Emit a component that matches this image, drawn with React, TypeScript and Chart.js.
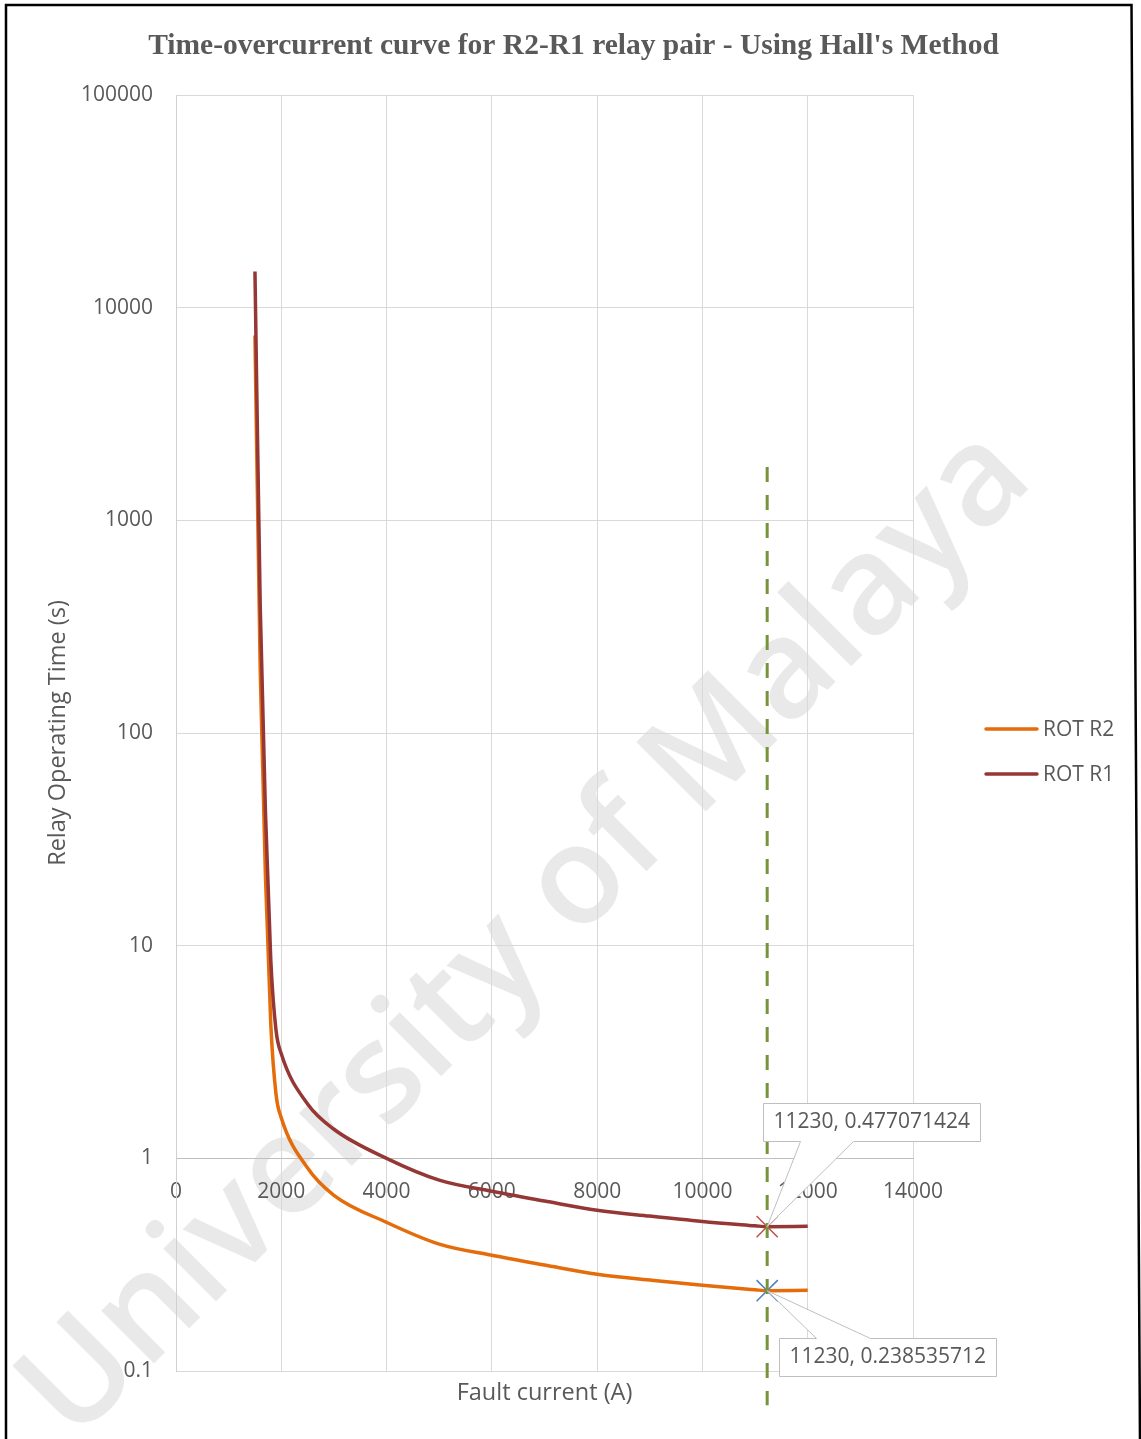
import React, { useEffect, useRef } from "react";
import { Chart, registerables } from "chart.js";

Chart.register(...registerables);

const W = 1141;
const H = 1439;

// Relay operating time (s) against fault current (A)
const faultCurrent = [1500, 1600, 1700, 1800, 1900, 2000, 2500, 3000, 4000, 5000, 6000, 7000, 8000, 9000, 10000, 11000, 11230, 12000];
const rotR1 = [14800, 395, 42, 8.6, 4.0, 3.1, 1.8, 1.37, 1.0, 0.79, 0.7, 0.63, 0.57, 0.535, 0.505, 0.482, 0.477071424, 0.479];
const rotR2 = [7400, 198, 21, 4.3, 2.0, 1.55, 0.9, 0.67, 0.5, 0.395, 0.35, 0.315, 0.285, 0.268, 0.253, 0.241, 0.238535712, 0.2395];

// Operating point for the pair and the marker line through it
const faultLevel = 11230;
const pointR1 = 0.477071424;
const pointR2 = 0.238535712;
const markerLineSpan = [1780, 0.069];

const xTicks = [0, 2000, 4000, 6000, 8000, 10000, 12000, 14000];
const yTicks = [0.1, 1, 10, 100, 1000, 10000, 100000];

const TITLE = "Time-overcurrent curve for R2-R1 relay pair - Using Hall's Method";
const X_TITLE = "Fault current (A)";
const Y_TITLE = "Relay Operating Time (s)";
const WATERMARK = "University of Malaya";

const TEXT = "#595959";
const SANS = '"Open Sans"';
const C_R2 = "#E46C0A";
const C_R1 = "#953735";

const seriesLegend = [
  { label: "ROT R2", color: C_R2 },
  { label: "ROT R1", color: C_R1 },
];

function toXY(ys: number[]) {
  return faultCurrent.map((x, i) => ({ x, y: ys[i] }));
}

function calloutPath(
  ctx: CanvasRenderingContext2D,
  ax: number,
  ay: number,
  L: number,
  T: number,
  w: number,
  h: number,
  b1: number,
  b2: number,
  pointerFrom: "top" | "bottom"
) {
  const R = L + w;
  const B = T + h;
  ctx.beginPath();
  if (pointerFrom === "bottom") {
    ctx.moveTo(L, T);
    ctx.lineTo(R, T);
    ctx.lineTo(R, B);
    ctx.lineTo(b2, B);
    ctx.lineTo(ax, ay);
    ctx.lineTo(b1, B);
    ctx.lineTo(L, B);
  } else {
    ctx.moveTo(L, T);
    ctx.lineTo(b1, T);
    ctx.lineTo(ax, ay);
    ctx.lineTo(b2, T);
    ctx.lineTo(R, T);
    ctx.lineTo(R, B);
    ctx.lineTo(L, B);
  }
  ctx.closePath();
}

const decorPlugin = {
  id: "decor",
  beforeDraw(chart: any) {
    const ctx: CanvasRenderingContext2D = chart.ctx;
    ctx.save();
    ctx.fillStyle = "#ffffff";
    ctx.fillRect(0, 0, W, H);
    // watermark
    ctx.translate(527, 935);
    ctx.rotate(-Math.PI / 4);
    ctx.font = `600 138px ${SANS}`;
    ctx.fillStyle = "rgba(0,0,0,0.085)";
    ctx.textAlign = "center";
    ctx.textBaseline = "middle";
    ctx.fillText(WATERMARK, 0, 0);
    ctx.restore();
  },
  afterDatasetsDraw(chart: any) {
    const ctx: CanvasRenderingContext2D = chart.ctx;
    const xs = chart.scales.x;
    const ys = chart.scales.y;
    ctx.save();
    ctx.font = `21px ${SANS}`;
    ctx.lineWidth = 1;
    ctx.strokeStyle = "#BFBFBF";
    ctx.textBaseline = "middle";
    ctx.textAlign = "left";

    const ax = xs.getPixelForValue(faultLevel);
    // upper callout (ROT R1)
    {
      const ay = ys.getPixelForValue(pointR1);
      const text = `${faultLevel}, ${pointR1}`;
      const w = Math.round(ctx.measureText(text).width + 20);
      const L = Math.round(ax - 4) + 0.5;
      const T = Math.round(ay - 124) + 0.5;
      calloutPath(ctx, ax, ay, L, T, w, 38, L + 37, L + 90, "bottom");
      ctx.fillStyle = "#ffffff";
      ctx.fill();
      ctx.stroke();
      ctx.fillStyle = TEXT;
      ctx.fillText(text, L + 10, T + 19);
    }
    // lower callout (ROT R2)
    {
      const ay = ys.getPixelForValue(pointR2);
      const text = `${faultLevel}, ${pointR2}`;
      const w = Math.round(ctx.measureText(text).width + 20);
      const L = Math.round(ax + 12) + 0.5;
      const T = Math.round(ay + 47) + 0.5;
      calloutPath(ctx, ax, ay, L, T, w, 38, L + 37, L + 91, "top");
      ctx.fillStyle = "#ffffff";
      ctx.fill();
      ctx.stroke();
      ctx.fillStyle = TEXT;
      ctx.fillText(text, L + 10, T + 19);
    }
    ctx.restore();
  },
  afterDraw(chart: any) {
    const ctx: CanvasRenderingContext2D = chart.ctx;
    const area = chart.chartArea;
    ctx.save();
    // chart title
    ctx.fillStyle = TEXT;
    ctx.font = 'bold 29.5px "Liberation Serif"';
    ctx.textAlign = "center";
    ctx.textBaseline = "middle";
    ctx.fillText(TITLE, 573.5, 46);

    // axis titles
    ctx.font = `23.5px ${SANS}`;
    ctx.fillText(X_TITLE, (area.left + area.right) / 2, 1393);
    ctx.save();
    ctx.translate(58, (area.top + area.bottom) / 2);
    ctx.rotate(-Math.PI / 2);
    ctx.fillText(Y_TITLE, 0, 0);
    ctx.restore();

    // legend
    ctx.font = `21px ${SANS}`;
    ctx.textAlign = "left";
    ctx.lineWidth = 3.5;
    ctx.lineCap = "round";
    seriesLegend.forEach((item, i) => {
      const y = 729 + i * 45;
      ctx.strokeStyle = item.color;
      ctx.beginPath();
      ctx.moveTo(986, y);
      ctx.lineTo(1037, y);
      ctx.stroke();
      ctx.fillStyle = TEXT;
      ctx.fillText(item.label, 1043, y + 1);
    });

    // page frame
    ctx.strokeStyle = "#000000";
    ctx.lineWidth = 2.5;
    ctx.lineCap = "butt";
    ctx.beginPath();
    ctx.moveTo(6, H + 2);
    ctx.lineTo(6, 5);
    ctx.lineTo(1131.5, 5);
    ctx.lineTo(1140, H + 2);
    ctx.stroke();
    ctx.restore();
  },
};

export default function App() {
  const canvasRef = useRef<HTMLCanvasElement | null>(null);

  useEffect(() => {
    const canvas = canvasRef.current;
    if (!canvas) return;
    const tickFont = { family: "Open Sans", size: 21 };
    const chart = new Chart(canvas, {
      type: "line",
      data: {
        datasets: [
          {
            label: "Fault level",
            data: markerLineSpan.map((y) => ({ x: faultLevel, y })),
            borderColor: "#77933C",
            borderWidth: 3,
            borderDash: [15, 13],
            pointRadius: 0,
            clip: false,
            order: 0,
          } as any,
          {
            label: "R2 point",
            data: [{ x: faultLevel, y: pointR2 }],
            showLine: false,
            pointStyle: "crossRot",
            pointRadius: 15,
            borderColor: "#4F81BD",
            borderWidth: 1.5,
            order: 1,
          },
          {
            label: "R1 point",
            data: [{ x: faultLevel, y: pointR1 }],
            showLine: false,
            pointStyle: "crossRot",
            pointRadius: 15,
            borderColor: "#C0504D",
            borderWidth: 1.5,
            order: 1,
          },
          {
            label: "ROT R1",
            data: toXY(rotR1),
            borderColor: C_R1,
            borderWidth: 3.5,
            pointRadius: 0,
            cubicInterpolationMode: "monotone",
            order: 2,
          },
          {
            label: "ROT R2",
            data: toXY(rotR2),
            borderColor: C_R2,
            borderWidth: 3.5,
            pointRadius: 0,
            cubicInterpolationMode: "monotone",
            order: 3,
          },
        ],
      },
      options: {
        responsive: false,
        animation: false,
        devicePixelRatio: 1,
        layout: { padding: { left: 0, top: 95, right: 228, bottom: 68 } },
        plugins: {
          legend: { display: false },
          title: { display: false },
          tooltip: { enabled: false },
        },
        scales: {
          x: {
            type: "linear",
            position: { y: 1 } as any,
            min: 0,
            max: 14000,
            afterBuildTicks: (s: any) => {
              s.ticks = xTicks.map((v) => ({ value: v }));
            },
            ticks: {
              padding: 21,
              color: TEXT,
              font: tickFont,
              maxRotation: 0,
              autoSkip: false,
              callback: (v: any) => String(v),
            },
            grid: { color: "#D9D9D9", lineWidth: 1, drawTicks: false },
            border: { color: "#BFBFBF", width: 1 },
          },
          y: {
            type: "logarithmic",
            position: "left",
            min: 0.1,
            max: 100000,
            afterFit: (s: any) => {
              s.width = 176;
            },
            afterBuildTicks: (s: any) => {
              s.ticks = yTicks.map((v) => ({ value: v }));
            },
            ticks: {
              padding: 23,
              color: TEXT,
              font: tickFont,
              autoSkip: false,
              callback: (v: any) => String(v),
            },
            grid: { color: "#D9D9D9", lineWidth: 1, drawTicks: false },
            border: { color: "#D0D0D0", width: 1 },
          },
        },
      },
      plugins: [decorPlugin],
    });
    return () => chart.destroy();
  }, []);

  return (
    <div style={{ position: "absolute", left: 0, top: 0, width: W, height: H, background: "#fff" }}>
      <canvas ref={canvasRef} width={W} height={H} style={{ display: "block", width: W, height: H }} />
    </div>
  );
}
